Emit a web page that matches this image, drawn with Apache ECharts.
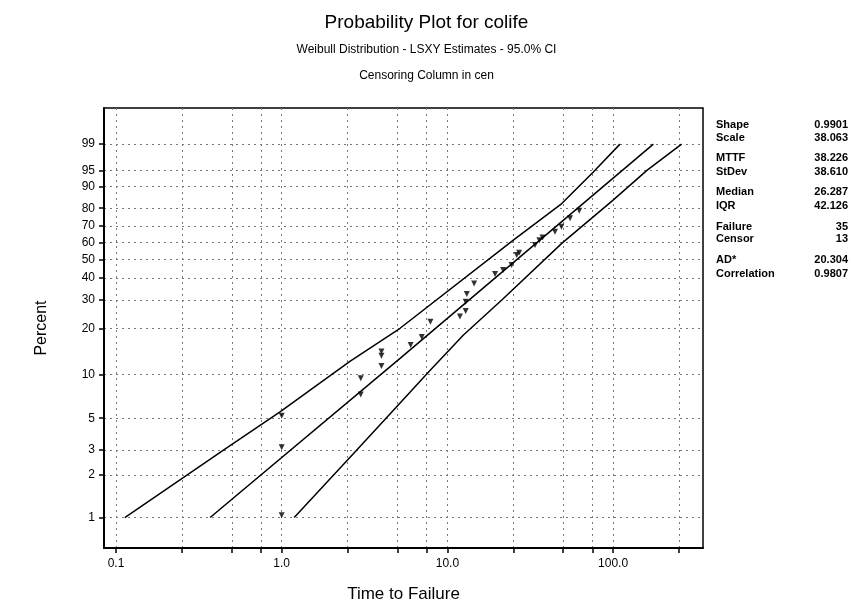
<!DOCTYPE html>
<html>
<head>
<meta charset="utf-8">
<script src="https://cdn.jsdelivr.net/npm/echarts@6/dist/echarts.min.js"></script>
<style>
  html, body { margin: 0; padding: 0; background: #fff; }
  #chart { width: 853px; height: 611px; }
</style>
</head>
<body>
<div id="chart"></div>
<script>
// failure points (time, percent)
const failTimes = [1.0, 1.0, 1.0, 3.0, 3.0, 4.0, 4.0, 4.0, 6.0, 7.0, 7.9, 11.9, 12.9, 12.9, 13.1, 14.5,
  19.4, 21.7, 24.4, 26.2, 27.1, 33.8, 35.9, 37.5, 44.6, 48.8, 55.0, 62.5]
const failPercent = [1.04, 3.13, 5.2, 7.3, 9.4, 11.4, 13.3, 14.2, 15.7, 17.7, 22.1, 23.8, 25.8, 29.3, 32.5, 37.4,
  42.1, 44.2, 46.9, 52.6, 53.9, 58.5, 61.4, 63.1, 66.5, 69.5, 74.4, 78.6]

// fitted line and 95% CI bands
const fitTimes = [0.37, 5.18, 175]
const fitPercent = [1.0, 12.8, 99.0]
const upperTimes = [0.113, 0.466, 0.977, 2.58, 5.18, 25.0, 49.0, 76.0, 110]
const upperPercent = [1.0, 3.1, 5.53, 12.2, 20.1, 61.5, 82.4, 94.6, 99.0]
const lowerTimes = [1.19, 2.84, 4.94, 7.85, 12.5, 21.3, 49.0, 100, 160, 259]
const lowerPercent = [1.0, 3.0, 6.0, 10.6, 18.2, 30.0, 59.5, 84.1, 95.0, 99.0]

// axis ticks
const percentTicks = [1, 2, 3, 5, 10, 20, 30, 40, 50, 60, 70, 80, 90, 95, 99]
const timeTicks = [0.1, 0.25, 0.5, 0.75, 1, 2.5, 5, 7.5, 10, 25, 50, 75, 100, 250]
const timeLabels = [0.1, 1, 10, 100]

// stats table on the right
const statNames = ["Shape", "Scale", "MTTF", "StDev", "Median", "IQR", "Failure", "Censor", "AD*", "Correlation"]
const statValues = ["0.9901", "38.063", "38.226", "38.610", "26.287", "42.126", "35", "13", "20.304", "0.9807"]
const statRows = [126, 139, 159, 173, 193, 207, 228, 240, 261, 275]

const FONT = "'Liberation Sans Narrow', 'Liberation Sans', Arial, sans-serif"

// weibull probability scale
const wb = p => Math.log(-Math.log(1 - p / 100))
const fromWb = w => 100 * (1 - Math.exp(-Math.exp(w)))
const lg = t => Math.log10(t)
const pairs = (ts, ps) => ts.map((t, i) => [lg(t), wb(ps[i])])

const chart = echarts.init(document.getElementById("chart"))

const lineSeries = (data) => ({
  type: "line",
  data: data,
  showSymbol: false,
  symbol: "none",
  silent: true,
  lineStyle: { color: "#000", width: 1.5 },
  z: 3,
})

const graphics = []
statNames.forEach((n, i) => {
  graphics.push({
    type: "text", left: 716, top: statRows[i] - 7,
    style: { text: n, fontSize: 11, fontWeight: "bold", fontFamily: FONT, fill: "#000" },
  })
  graphics.push({
    type: "text", right: 853 - 848, top: statRows[i] - 7,
    style: { text: statValues[i], fontSize: 11, fontWeight: "bold", fontFamily: FONT, fill: "#000", textAlign: "right" },
  })
})

const option = {
  backgroundColor: "#fff",
  animation: false,
  title: [
    { text: "Probability Plot for colife", left: "center", top: 8,
      textStyle: { fontSize: 19, fontWeight: "normal", color: "#000", fontFamily: FONT } },
    { text: "Weibull Distribution - LSXY Estimates - 95.0% CI", left: "center", top: 39,
      textStyle: { fontSize: 12, fontWeight: "normal", color: "#000", fontFamily: FONT } },
    { text: "Censoring Column in cen", left: "center", top: 65,
      textStyle: { fontSize: 12, fontWeight: "normal", color: "#000", fontFamily: FONT } },
  ],
  grid: {
    left: 104, right: 150, top: 108, bottom: 63,
    show: true, borderColor: "#000", borderWidth: 1.5,
  },
  xAxis: {
    type: "value",
    min: -1.0724,
    max: 2.5426,
    name: "Time to Failure",
    nameLocation: "middle",
    nameGap: 38,
    nameTextStyle: { fontSize: 17, color: "#000", fontFamily: FONT },
    axisLine: { show: true, onZero: false, lineStyle: { color: "#000", width: 2 } },
    axisTick: { show: true, length: 5, customValues: timeTicks.map(lg), lineStyle: { color: "#000", width: 1.5 } },
    axisLabel: {
      customValues: timeLabels.map(lg),
      margin: 10,
      fontSize: 12, color: "#000", fontFamily: FONT,
      formatter: v => Math.pow(10, v).toFixed(1),
    },
    splitLine: { show: true, lineStyle: { color: "#777", width: 1, type: [2, 4] } },
  },
  yAxis: {
    type: "value",
    min: -5.1,
    max: 2.12,
    name: "Percent",
    nameLocation: "middle",
    nameRotate: 90,
    nameGap: 54,
    nameTextStyle: { fontSize: 16, color: "#000", fontFamily: FONT },
    axisLine: { show: true, onZero: false, lineStyle: { color: "#000", width: 2 } },
    axisTick: { show: true, length: 5, customValues: percentTicks.map(wb), lineStyle: { color: "#000", width: 1.5 } },
    axisLabel: {
      customValues: percentTicks.map(wb),
      margin: 9,
      fontSize: 12, color: "#000", fontFamily: FONT,
      formatter: v => String(Math.round(fromWb(v))),
    },
    splitLine: { show: true, lineStyle: { color: "#777", width: 1, type: [2, 4] } },
  },
  series: [
    lineSeries(pairs(upperTimes, upperPercent)),
    lineSeries(pairs(fitTimes, fitPercent)),
    lineSeries(pairs(lowerTimes, lowerPercent)),
    {
      type: "scatter",
      data: pairs(failTimes, failPercent),
      symbol: "triangle",
      symbolRotate: 180,
      symbolSize: 6,
      itemStyle: { color: "#000" },
      z: 4,
    },
  ],
  graphic: graphics,
}

chart.setOption(option)
</script>
</body>
</html>
